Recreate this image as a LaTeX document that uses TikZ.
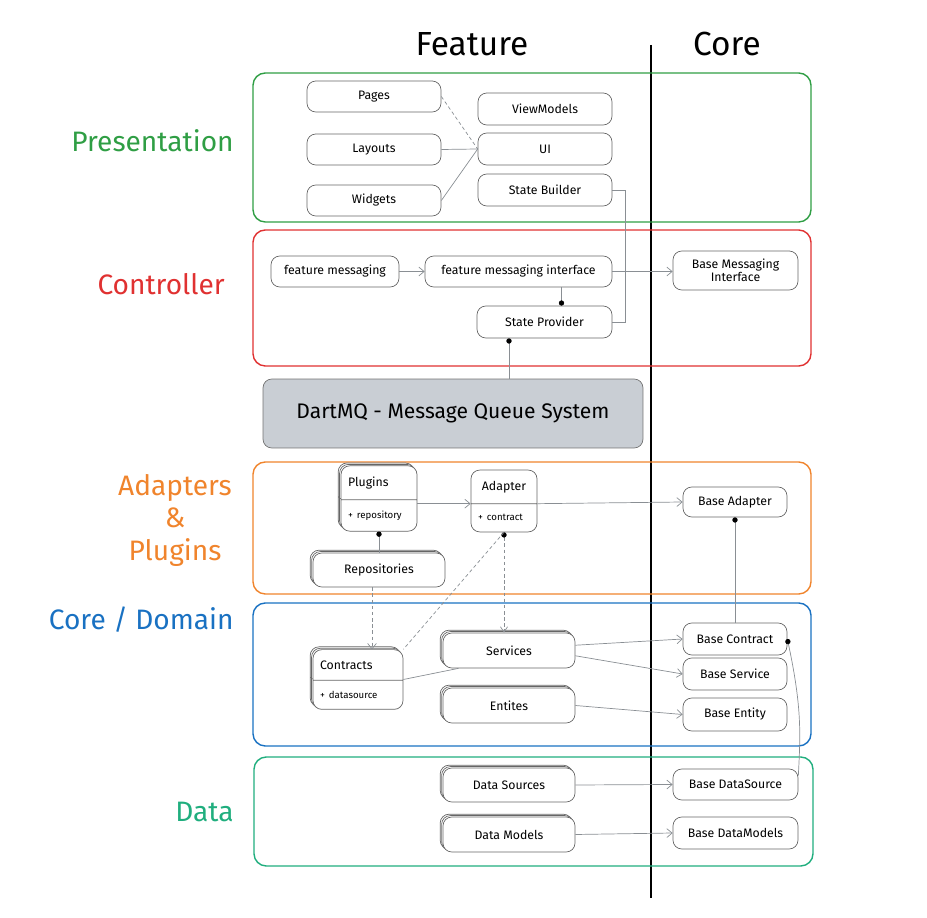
\documentclass[tikz,border=0pt]{standalone}
\usepackage{fontspec}
\setmainfont{Fira Sans}
\usetikzlibrary{arrows.meta,shadows,shapes.multipart,calc}

\definecolor{presgreen}{HTML}{2F9E44}
\definecolor{ctrlred}{HTML}{E03131}
\definecolor{adaptorange}{HTML}{F0842C}
\definecolor{domainblue}{HTML}{1971C2}
\definecolor{datateal}{HTML}{20AE7E}
\definecolor{mqgray}{HTML}{C9CED4}
\definecolor{linegray}{HTML}{8A8F94}

\tikzset{
  box/.style={draw=black!60, line width=0.4pt, rounded corners=5pt, fill=white,
    font=\fontsize{7}{8.5}\selectfont, inner sep=2pt},
  stackbox/.style={box, double copy shadow={shadow xshift=-0.8pt, shadow yshift=0.8pt}},
  umlbox/.style={box, rectangle split, rectangle split parts=2, align=left,
    inner xsep=4pt, inner ysep=6pt},
  frame/.style={draw=#1, line width=0.8pt, rounded corners=7pt},
  sidelabel/.style={text=#1, font=\fontsize{16}{19}\selectfont, inner sep=0pt},
  head/.style={font=\fontsize{19}{22}\selectfont},
  link/.style={draw=linegray, line width=0.4pt},
  arr/.style={link, -{Straight Barb[length=3pt,width=5pt]}},
  dotted link/.style={link, dash pattern=on 2pt off 1.5pt},
  blob/.tip={Circle[length=3pt, color=black]}
}

\begin{document}
\begin{tikzpicture}[x=0.02cm,y=-0.02cm]
\useasboundingbox (0,0) rectangle (927,918);

% headers and divider
\node[head] (feature) at (472,44) {Feature};
\node[head] (core) at (727,44) {Core};
\draw[line width=0.9pt] (651,45) -- (651,898);

% layer frames
\draw[frame=presgreen] (253,73) rectangle (811,222);
\draw[frame=ctrlred] (253,230) rectangle (811,366);
\draw[frame=adaptorange] (253,462) rectangle (811,594);
\draw[frame=domainblue] (253,603) rectangle (811,746);
\draw[frame=datateal] (254,757) rectangle (813,866);

% layer names
\node[sidelabel=presgreen, anchor=east] (presentation) at (234,141) {Presentation};
\node[sidelabel=ctrlred, anchor=east] (controller) at (225,284) {Controller};
\node[sidelabel=adaptorange, align=center] (adapters) at (175,520) {Adapters\\[-0.5pt]\&\\[-0.5pt]Plugins};
\node[sidelabel=domainblue, anchor=east] (domain) at (234,620) {Core / Domain};
\node[sidelabel=datateal, anchor=east] (data) at (234,812) {Data};

% presentation
\node[box, minimum width=2.68cm, minimum height=0.62cm] (pages) at (374,96.5) {Pages};
\node[box, minimum width=2.68cm, minimum height=0.62cm] (layouts) at (374,149.5) {Layouts};
\node[box, minimum width=2.68cm, minimum height=0.62cm] (widgets) at (374,200.5) {Widgets};
\node[box, minimum width=2.68cm, minimum height=0.64cm] (viewmodels) at (545,109) {ViewModels};
\node[box, minimum width=2.68cm, minimum height=0.64cm] (ui) at (545,149) {UI};
\node[box, minimum width=2.68cm, minimum height=0.64cm] (statebuilder) at (545,190) {State Builder};

\draw[dotted link] (pages.east) -- (ui.west);
\draw[link] (layouts.east) -- (ui.west);
\draw[link] (widgets.east) -- (ui.west);

% controller
\node[box, minimum width=2.56cm, minimum height=0.62cm] (featmsg) at (335,271.5) {feature messaging};
\node[box, minimum width=3.74cm, minimum height=0.62cm] (featmsgif) at (518.5,271.5) {feature messaging interface};
\node[box, minimum width=2.5cm, minimum height=0.78cm, align=center] (basemsgif) at (735.5,270.5) {Base Messaging\\[-1pt]Interface};
\node[box, minimum width=2.7cm, minimum height=0.64cm] (stateprov) at (544.5,322) {State Provider};
\coordinate (spin) at ($(stateprov.north)+(17,0)$);
\coordinate (spout) at ($(stateprov.south)+(-35.5,0)$);

\draw[arr] (featmsg) -- (featmsgif);
\draw[arr] (featmsgif.east) -- (basemsgif.west |- featmsgif.east);
\draw[link, -blob] (featmsgif.south -| spin) -- (spin);
\draw[link] (statebuilder.east) -- ++(13,0) |- (stateprov.east);

% message queue
\node[box, fill=mqgray, draw=black!55, minimum width=7.6cm, minimum height=1.38cm,
  font=\fontsize{12}{14}\selectfont] (dartmq) at (453,413.5) {DartMQ - Message Queue System};
\draw[link, blob-] (spout) -- (dartmq.north -| spout);

% adapters & plugins
\node[umlbox, double copy shadow={shadow xshift=-0.8pt, shadow yshift=0.8pt},
  text width=1.24cm] (plugins) at (379,498.5) {Plugins\nodepart{two}\fontsize{5.5}{6.5}\selectfont + repository};
\node[umlbox, text width=1.04cm] (adapter) at (504,501) {\hfill Adapter\hfill\null\nodepart{two}\fontsize{5.5}{6.5}\selectfont + contract};
\node[box, minimum width=2.08cm, minimum height=0.6cm] (baseadapter) at (735,502) {Base Adapter};
\node[stackbox, minimum width=2.64cm, minimum height=0.68cm] (repos) at (379,570) {Repositories};
\coordinate (repout) at ($(repos.south)+(-7,0)$);

\draw[arr] (plugins.east |- adapter.text split) -- (adapter.west |- adapter.text split);
\draw[arr] (adapter.east |- adapter.text split) -- (baseadapter.west);
\draw[link, blob-] (plugins.south) -- (repos.north);

% core / domain
\node[umlbox, double copy shadow={shadow xshift=-0.8pt, shadow yshift=0.8pt},
  text width=1.52cm] (contracts) at (358,679.5) {Contracts\nodepart{two}\fontsize{5.5}{6.5}\selectfont + datasource};
\node[stackbox, minimum width=2.64cm, minimum height=0.7cm] (services) at (509,650.5) {Services};
\node[stackbox, minimum width=2.64cm, minimum height=0.7cm] (entites) at (509,705.5) {Entites};
\node[box, minimum width=2.08cm, minimum height=0.64cm] (basecontract) at (735,639) {Base Contract};
\node[box, minimum width=2.08cm, minimum height=0.64cm] (baseservice) at (735,674) {Base Service};
\node[box, minimum width=2.08cm, minimum height=0.66cm] (baseentity) at (735,714.5) {Base Entity};

\draw[dotted link, blob-{Straight Barb[length=3pt,width=4pt]}] (adapter.south) -- (services.north -| adapter.south);
\draw[dotted link] (adapter.south) -- (contracts.north east);
\draw[dotted link, -{Straight Barb[length=3pt,width=5pt]}] (repout) -- (contracts.north -| repout);
\draw[link] (contracts.east) -- ([xshift=9pt]services.south west);
\draw[arr] ([yshift=3pt]services.east) -- (basecontract.west);
\draw[arr] ([yshift=-3pt]services.east) -- (baseservice.west);
\draw[arr] (entites.east) -- (baseentity.west);
\draw[link, blob-] (baseadapter.south) -- (basecontract.north);

% data
\node[stackbox, minimum width=2.64cm, minimum height=0.68cm] (datasources) at (509,785) {Data Sources};
\node[stackbox, minimum width=2.64cm, minimum height=0.7cm] (datamodels) at (509,834.5) {Data Models};
\node[box, minimum width=2.5cm, minimum height=0.62cm] (basedatasource) at (735.5,784.5) {Base DataSource};
\node[box, minimum width=2.5cm, minimum height=0.64cm] (basedatamodels) at (735.5,833) {Base DataModels};

\draw[arr] (datasources.east) -- (basedatasource.west);
\draw[arr] (datamodels.east) -- (basedatamodels.west);
\draw[link, blob-] (basecontract.east) .. controls +(15,70) and +(2,-40) .. ([yshift=5pt]basedatasource.east);
\end{tikzpicture}
\end{document}
